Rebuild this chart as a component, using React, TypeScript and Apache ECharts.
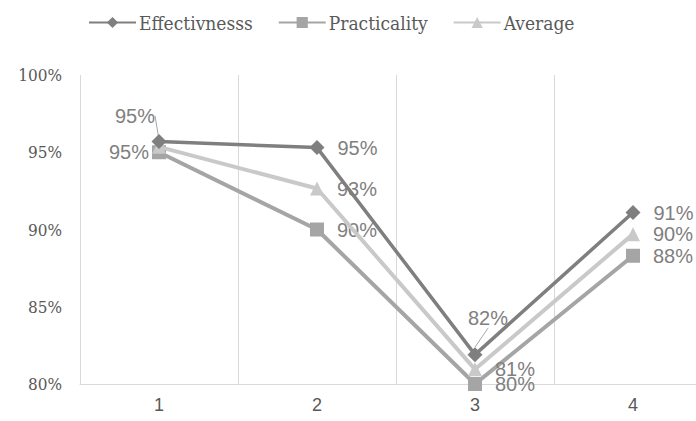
import React, { useEffect, useRef } from "react";
import * as echarts from "echarts";

const categories = ["1", "2", "3", "4"];
const effectiveness = [95.7, 95.3, 81.9, 91.1];
const practicality = [95.0, 90.0, 80.0, 88.3];
const average = [95.35, 92.65, 80.95, 89.7];
const seriesNames = ["Effectivnesss", "Practicality", "Average"];

const labelFont = "Liberation Sans";
const serifFont = "DejaVu Serif Condensed, DejaVu Serif";

export default function App() {
  const ref = useRef<HTMLDivElement>(null);
  useEffect(() => {
    document.body.style.margin = "0";
    if (!ref.current) return;
    const chart = echarts.init(ref.current, null, { renderer: "svg" });
    const baseLabel = {
      show: true,
      position: "right",
      distance: 13,
      color: "#808080",
      fontSize: 20,
      fontFamily: labelFont,
      formatter: (p: any) => `${Math.round(p.value)}%`,
    };
    const leader = { show: true, lineStyle: { color: "#a6a6a6", width: 1 } };
    chart.setOption({
      animation: false,
      legend: {
        top: 8,
        left: 83,
        itemWidth: 47,
        itemHeight: 14,
        itemGap: 25,
        textStyle: {
          fontFamily: serifFont,
          fontSize: 19,
          color: "#595959",
          padding: [0, 0, 0, -2],
        },
        data: seriesNames,
      },
      grid: { left: 80, right: 0, top: 75, bottom: 37, containLabel: false },
      xAxis: {
        type: "category",
        data: categories,
        boundaryGap: true,
        axisTick: { show: false },
        axisLine: { show: true, lineStyle: { color: "#d9d9d9", width: 1 } },
        splitLine: { show: true, lineStyle: { color: "#d9d9d9", width: 1 } },
        axisLabel: { color: "#595959", fontSize: 18, fontFamily: labelFont, margin: 12 },
      },
      yAxis: {
        type: "value",
        min: 80,
        max: 100,
        interval: 5,
        axisLine: { show: false },
        axisTick: { show: false },
        splitLine: { show: false },
        axisLabel: {
          color: "#595959",
          fontSize: 17,
          fontFamily: serifFont,
          margin: 18,
          formatter: (v: number) => `${v}%`,
        },
      },
      series: [
        {
          name: seriesNames[1],
          type: "line",
          data: practicality.map((v, i) =>
            i === 0 ? { value: v, label: { position: "left", distance: 3 } } : v
          ),
          symbol: "rect",
          symbolSize: 14,
          color: "#a5a5a5",
          lineStyle: { width: 4, color: "#a5a5a5" },
          itemStyle: { color: "#a5a5a5" },
          label: baseLabel,
          z: 2,
        },
        {
          name: seriesNames[2],
          type: "line",
          data: average.map((v, i) =>
            i === 0
              ? { value: v, label: { position: "top", distance: 5 }, labelLine: leader }
              : v
          ),
          symbol: "triangle",
          symbolSize: 14,
          color: "#c9c9c9",
          lineStyle: { width: 4, color: "#c9c9c9" },
          itemStyle: { color: "#c9c9c9" },
          label: baseLabel,
          labelLine: { show: false },
          labelLayout: (p: any) => (p.dataIndex === 0 ? { dx: -24, dy: -9 } : {}),
          z: 3,
        },
        {
          name: seriesNames[0],
          type: "line",
          data: effectiveness.map((v, i) => {
            if (i === 0) return { value: v, label: { show: false } };
            if (i === 2)
              return { value: v, label: { position: "top", distance: 3 }, labelLine: leader };
            return v;
          }),
          symbol: "diamond",
          symbolSize: 15,
          color: "#7f7f7f",
          lineStyle: { width: 3.5, color: "#7f7f7f" },
          itemStyle: { color: "#7f7f7f" },
          label: baseLabel,
          labelLine: { show: false },
          labelLayout: (p: any) => (p.dataIndex === 2 ? { dx: 13, dy: -16 } : {}),
          z: 4,
        },
      ],
    });
    return () => chart.dispose();
  }, []);
  return (
    <div style={{ width: 696, height: 421, overflow: "hidden" }}>
      <div ref={ref} style={{ width: 712, height: 421 }} />
    </div>
  );
}
